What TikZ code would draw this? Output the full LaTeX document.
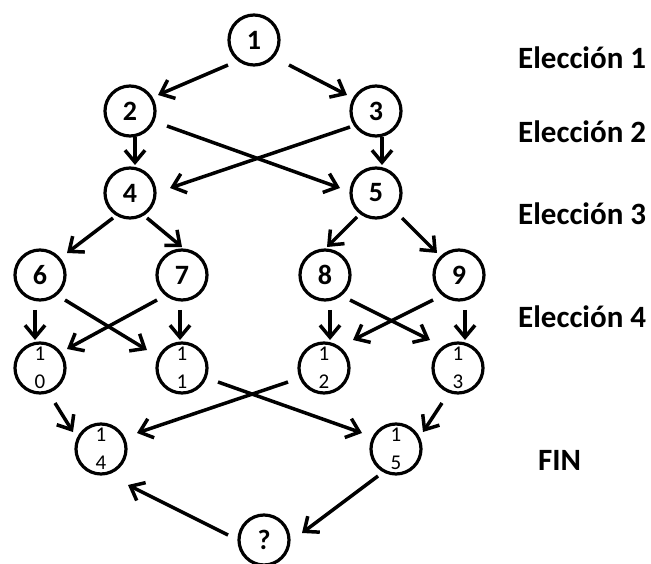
\documentclass[tikz,border=0pt]{standalone}
\usepackage{fontspec}
\setmainfont{Carlito}
\usetikzlibrary{arrows.meta,calc}
\begin{document}
\begin{tikzpicture}[x=1pt,y=-1pt,
  st/.style={circle,draw,line width=3.2pt,minimum size=50pt,inner sep=0pt,font=\bfseries\fontsize{28}{28}\selectfont},
  sttwo/.style={st,align=center,font=\fontsize{21}{28}\selectfont},
  ar/.style={line width=3.5pt,-{Straight Barb[length=12pt,width=20pt]}},
  lab/.style={anchor=base west,inner sep=0pt,font=\bfseries\fontsize{31}{31}\selectfont}]
\useasboundingbox (0,0) rectangle (651,564);
% nodes
\node[st] (n1) at (254,40) {1};
\node[st] (n2) at (130,111) {2};
\node[st] (n3) at (376,111) {3};
\node[st] (n4) at (130,193) {4};
\node[st] (n5) at (376,193) {5};
\node[st] (n6) at (40,275) {6};
\node[st] (n7) at (182,275) {7};
\node[st] (n8) at (325,275) {8};
\node[st] (n9) at (459,275) {9};
\node[sttwo] (n10) at (40,368) {1\\0};
\node[sttwo] (n11) at (182,368) {1\\1};
\node[sttwo] (n12) at (324,368) {1\\2};
\node[sttwo] (n13) at (458,368) {1\\3};
\node[sttwo] (n14) at (101,449) {1\\4};
\node[sttwo] (n15) at (396,449) {1\\5};
\node[st] (nq) at (264,540) {?};
% labels
\node[lab] (l1) at (518,69) {Elección 1};
\node[lab] (l2) at (518,143) {Elección 2};
\node[lab] (l3) at (518,225) {Elección 3};
\node[lab] (l4) at (518,327) {Elección 4};
\node[lab] (l5) at (538,470) {FIN};
% connectors
\draw[ar] ($(n1)+(-26,25)$) -- ($(n2)+(28,-16)$);
\draw[ar] ($(n1)+(35,25)$) -- ($(n3)+(-29,-16)$);
\draw[ar] ($(n2)+(5,26)$) -- ($(n4)+(5,-28)$);
\draw[ar] ($(n3)+(6,26)$) -- ($(n5)+(6,-28)$);
\draw[ar] ($(n2)+(37,15)$) -- ($(n5)+(-36,-5)$);
\draw[ar] ($(n3)+(-26,16)$) -- ($(n4)+(40,-5)$);
\draw[ar] ($(n4)+(-17,25)$) -- ($(n6)+(27,-22)$);
\draw[ar] ($(n4)+(17,25)$) -- ($(n7)+(0,-28)$);
\draw[ar] ($(n5)+(-19,24)$) -- ($(n8)+(2,-28)$);
\draw[ar] ($(n5)+(26,25)$) -- ($(n9)+(-22,-22)$);
\draw[ar] ($(n6)+(-5,35)$) -- ($(n10)+(-5,-28)$);
\draw[ar] ($(n7)+(-2,35)$) -- ($(n11)+(-2,-28)$);
\draw[ar] ($(n8)+(5,35)$) -- ($(n12)+(6,-28)$);
\draw[ar] ($(n9)+(6,35)$) -- ($(n13)+(7,-28)$);
\draw[ar] ($(n6)+(25,25)$) -- ($(n11)+(-35,-18)$);
\draw[ar] ($(n7)+(-25,25)$) -- ($(n10)+(27,-19)$);
\draw[ar] ($(n8)+(25,25)$) -- ($(n13)+(-28,-28)$);
\draw[ar] ($(n9)+(-26,25)$) -- ($(n12)+(29,-28)$);
\draw[ar] ($(n11)+(36,14)$) -- ($(n15)+(-34,-16)$);
\draw[ar] ($(n12)+(-36,14)$) -- ($(n14)+(36,-16)$);
\draw[ar] ($(n10)+(15,35)$) -- ($(n14)+(-28,-17)$);
\draw[ar] ($(n13)+(-16,35)$) -- ($(n15)+(27,-17)$);
\draw[ar] ($(n15)+(-18,27)$) -- ($(nq)+(38,-7)$);
\draw[ar] ($(nq)+(-36,-5)$) -- ($(n14)+(27,36)$);
\end{tikzpicture}
\end{document}
